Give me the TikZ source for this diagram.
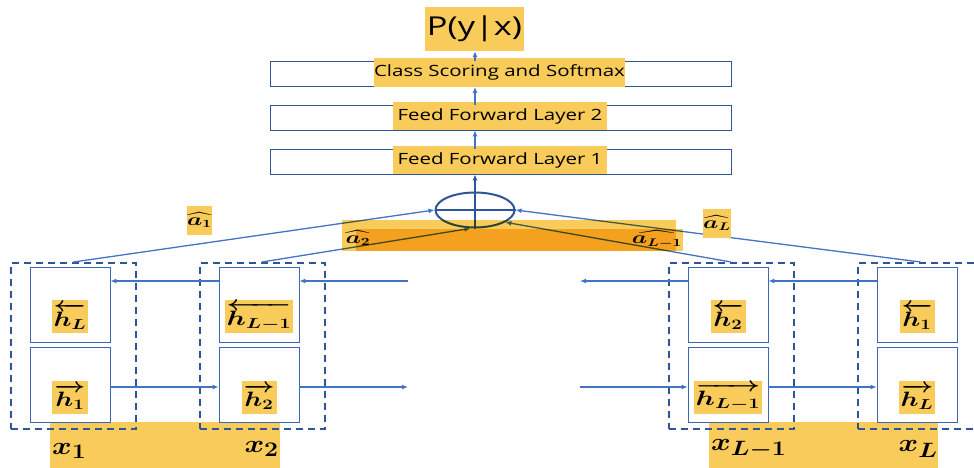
\documentclass[tikz,border=0pt]{standalone}
\usepackage{amsmath}
\usepackage{graphicx}
\usepackage{fontspec}
\setsansfont{Open Sans}[FakeStretch=1.32]
\usetikzlibrary{arrows.meta, shapes.geometric}
\definecolor{hl}{HTML}{F9CB5A}
\definecolor{lblue}{HTML}{4472C4}
\definecolor{dblue}{HTML}{2F5597}
\newcommand{\widemath}[2][1.3]{\scalebox{#1}[1]{$#2$}}
\begin{document}
\begin{tikzpicture}[x=1pt, y=-1pt, font=\sffamily,
  layer/.style={draw=dblue, line width=0.8pt, minimum width=461pt, minimum height=25pt, inner sep=0pt},
  tag/.style={fill=hl, inner sep=0pt, minimum height=28pt, font=\sffamily\fontsize{15.5}{15.5}\selectfont},
  cell/.style={draw=lblue!90!black, line width=0.8pt, minimum width=80pt, minimum height=75pt, inner sep=0pt},
  word/.style={draw=dblue, line width=2pt, dash pattern=on 7pt off 5pt, minimum width=125pt, minimum height=166pt, inner sep=0pt},
  hid/.style={fill=hl, inner xsep=2pt, inner ysep=0pt, minimum width=34pt, minimum height=33pt, yshift=-12pt, font=\boldmath\fontsize{21}{21}\selectfont},
  att/.style={inner sep=0pt, minimum width=25pt, minimum height=29pt, font=\boldmath\fontsize{16}{16}\selectfont},
  inp/.style={inner sep=0pt, font=\boldmath\fontsize{31}{31}\selectfont},
  flow/.style={lblue, line width=1.3pt, -{Latex[length=6pt,width=5pt]}}]
\useasboundingbox (0,0) rectangle (974,468);

% word highlights
\fill[hl] (50,422) rectangle (280,468);
\fill[hl] (709,422) rectangle (938,468);

% classifier stack
\node[layer] (cls) at (500.5,74) {};
\node[layer] (ff2) at (500.5,117.5) {};
\node[layer] (ff1) at (500.5,161.5) {};
\node[tag, minimum height=29pt] (clsl) at (499.5,72.5) {Class Scoring and Softmax};
\node[tag, minimum width=214pt] (ff2l) at (500,116) {Feed Forward Layer 2};
\node[tag, minimum width=214pt] (ff1l) at (500,160) {Feed Forward Layer 1};
\node[fill=hl, minimum width=99pt, minimum height=44pt, inner sep=0pt, font=\sffamily\fontsize{26}{26}\selectfont] (prob) at (474.5,29) {P(y|x)};

\node[ellipse, draw=dblue, line width=2pt, minimum width=79pt, minimum height=35pt, inner sep=0pt] (sum) at (475,210) {};
\draw[dblue, line width=1.6pt] (sum.west) -- (sum.east);
\draw[flow, dblue, line width=1.6pt] (sum.south) -- (ff1.south -| sum);
\draw[flow, line width=1.8pt] (ff1.north -| sum) -- (ff2.south -| sum);
\draw[flow, line width=1.8pt] (ff2.north -| sum) -- (cls.south -| sum);
\draw[flow, line width=1.8pt] (cls.north -| sum) -- (prob.south -| sum);

% words and their two states
\foreach \i/\cx/\wx in {1/70/73.5, 2/259/262, 3/728/731, 4/917/920.5} {
  \node[cell] (c\i t) at (\cx,304.5) {};
  \node[cell] (c\i b) at (\cx,385) {};
  \node[word] (w\i) at (\wx,346) {};
}

\coordinate (bk) at (0,281);
\coordinate (fw) at (0,387);
\coordinate (gapl) at (408,0);
\coordinate (gapr) at (580,0);

\draw[flow] (c1b.east |- fw) -- (c2b.west |- fw);
\draw[flow] (c2b.east |- fw) -- (gapl |- fw);
\draw[flow] (gapr |- fw) -- (c3b.west |- fw);
\draw[flow] (c3b.east |- fw) -- (c4b.west |- fw);
\draw[flow] (c4t.west |- bk) -- (c3t.east |- bk);
\draw[flow] (c3t.west |- bk) -- (gapr |- bk);
\draw[flow] (gapl |- bk) -- (c2t.east |- bk);
\draw[flow] (c2t.west |- bk) -- (c1t.east |- bk);

\node[hid] (hb1) at (c1t.center) {\widemath{\overleftarrow{h_L}}};
\node[hid] (hf1) at (c1b.center) {\widemath{\overrightarrow{h_1}}};
\node[hid] (hb2) at (c2t.center) {\widemath[1.4]{\overleftarrow{h_{L-1}}}};
\node[hid] (hf2) at (c2b.center) {\widemath{\overrightarrow{h_2}}};
\node[hid] (hb3) at (c3t.center) {\widemath{\overleftarrow{h_2}}};
\node[hid] (hf3) at (c3b.center) {\widemath[1.4]{\overrightarrow{h_{L-1}}}};
\node[hid] (hb4) at (c4t.center) {\widemath{\overleftarrow{h_1}}};
\node[hid] (hf4) at (c4b.center) {\widemath{\overrightarrow{h_L}}};

% attention
\draw[flow] (w1.north) -- (sum.west);
\draw[flow] (w2.north) -- (sum.-104);
\draw[flow] (w3.north) -- (sum.-22);
\draw[flow] (w4.north) -- (sum.east);
\begin{scope}[blend mode=multiply]
\fill[hl] (342,220) rectangle (676,251);
\fill[hl] (356,229) rectangle (683,251);
\end{scope}
\node[att, fill=hl] (a1) at (199.5,220) {\widemath[1.4]{\widehat{a_1}}};
\node[att, fill=hl] (aL) at (717,223) {\widemath[1.4]{\widehat{a_L}}};
\node[att] (a2) at (358,238) {\widemath[1.4]{\widehat{a_2}}};
\node[att] (aLm) at (657,239) {\widemath[1.4]{\widehat{a_{L-1}}}};

\node[inp, anchor=west] (x1) at (52,451) {\widemath[1.2]{x_1}};
\node[inp, anchor=east] (x2) at (279,449) {\widemath[1.2]{x_2}};
\node[inp, anchor=west] (x3) at (711,449) {\widemath[1.2]{x_{L-1}}};
\node[inp, anchor=east] (x4) at (938,449) {\widemath[1.2]{x_L}};

\end{tikzpicture}
\end{document}
